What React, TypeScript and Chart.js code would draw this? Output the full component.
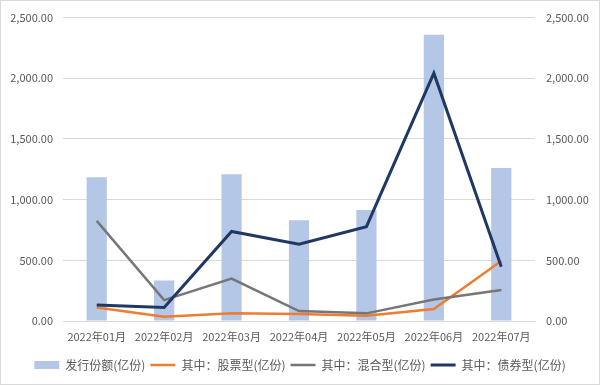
import React, { useEffect, useRef } from "react";
import { Chart, registerables } from "chart.js";

Chart.register(...registerables);

const categories = ["2022年01月", "2022年02月", "2022年03月", "2022年04月", "2022年05月", "2022年06月", "2022年07月"];
const issuance = [1185, 333, 1209, 831, 915, 2359, 1261];
const stockType = [112, 35, 63, 57, 44, 98, 495];
const mixedType = [825, 172, 349, 82, 63, 177, 255];
const bondType = [131, 112, 738, 633, 777, 2042, 447];
const seriesNames = ["发行份额(亿份)", "其中：股票型(亿份)", "其中：混合型(亿份)", "其中：债券型(亿份)"];
const axisMax = 2500;
const axisStep = 500;

const FONT = '"Noto Sans CJK SC", "Noto Sans", sans-serif';
const TEXT = "#595959";
const GRID = "#d9d9d9";

const fmt = (v: number) =>
  Number(v).toLocaleString("en-US", { minimumFractionDigits: 2, maximumFractionDigits: 2 });

const borderPlugin = {
  id: "frame",
  afterDraw(chart: any) {
    const ctx = chart.ctx;
    ctx.save();
    ctx.strokeStyle = GRID;
    ctx.lineWidth = 1;
    ctx.strokeRect(0.5, 0.5, chart.width - 1, chart.height - 1);
    ctx.restore();
  },
};

export default function App() {
  const ref = useRef<HTMLCanvasElement>(null);
  useEffect(() => {
    document.body.style.margin = "0";
    const chart = new Chart(ref.current!, {
      type: "bar",
      data: {
        labels: categories,
        datasets: [
          {
            type: "bar",
            label: seriesNames[0],
            data: issuance,
            backgroundColor: "#b4c7e7",
            borderWidth: 0,
            barPercentage: 0.3,
            categoryPercentage: 1,
            yAxisID: "y",
            order: 4,
          } as any,
          {
            type: "line",
            label: seriesNames[1],
            data: stockType,
            borderColor: "#ed7d31",
            backgroundColor: "#ed7d31",
            borderWidth: 2.5,
            pointRadius: 0,
            tension: 0,
            yAxisID: "y1",
            order: 3,
          },
          {
            type: "line",
            label: seriesNames[2],
            data: mixedType,
            borderColor: "#767676",
            backgroundColor: "#767676",
            borderWidth: 2.5,
            pointRadius: 0,
            tension: 0,
            yAxisID: "y1",
            order: 2,
          },
          {
            type: "line",
            label: seriesNames[3],
            data: bondType,
            borderColor: "#203864",
            backgroundColor: "#203864",
            borderWidth: 3,
            pointRadius: 0,
            tension: 0,
            yAxisID: "y1",
            order: 1,
          },
        ],
      },
      options: {
        animation: false,
        responsive: false,
        layout: { padding: { top: 12, bottom: 4, left: 0, right: 0 } },
        plugins: {
          tooltip: { enabled: false },
          legend: {
            position: "bottom",
            labels: {
              font: { family: FONT, size: 12 },
              color: TEXT,
              usePointStyle: true,
              pointStyleWidth: 25,
              boxHeight: 8,
              padding: 5,
              sort: (a: any, b: any) => a.datasetIndex - b.datasetIndex,
              generateLabels: (chart: any) => {
                const items = Chart.defaults.plugins.legend.labels.generateLabels(chart);
                return items.map((it: any) => {
                  const ds = chart.data.datasets[it.datasetIndex];
                  if (ds.type === "line") {
                    it.pointStyle = "line";
                    it.strokeStyle = ds.borderColor;
                    it.lineWidth = ds.borderWidth;
                  } else {
                    it.pointStyle = "rect";
                    it.lineWidth = 0;
                    it.fillStyle = ds.backgroundColor;
                  }
                  return it;
                });
              },
            },
          },
        },
        scales: {
          x: {
            grid: { display: false, drawTicks: false },
            border: { display: true, color: GRID },
            ticks: { font: { family: FONT, size: 11 }, color: TEXT, padding: 9, maxRotation: 0 },
            afterFit: (s: any) => {
              s.height = 33;
            },
          },
          y: {
            position: "left",
            min: 0,
            max: axisMax,
            grid: { color: GRID, drawTicks: false },
            border: { display: false },
            ticks: {
              stepSize: axisStep,
              font: { family: FONT, size: 11 },
              color: TEXT,
              padding: 10,
              callback: (v: any) => fmt(v),
            },
            afterFit: (s: any) => {
              s.width = 63;
            },
          },
          y1: {
            position: "right",
            min: 0,
            max: axisMax,
            grid: { display: false, drawTicks: false },
            border: { display: false },
            ticks: {
              stepSize: axisStep,
              font: { family: FONT, size: 11 },
              color: TEXT,
              padding: 11,
              callback: (v: any) => fmt(v),
            },
            afterFit: (s: any) => {
              s.width = 65;
            },
          },
        },
      },
      plugins: [borderPlugin],
    });
    return () => chart.destroy();
  }, []);
  return (
    <div style={{ width: 600, height: 385, background: "#fff" }}>
      <canvas ref={ref} width={600} height={385} style={{ display: "block" }} />
    </div>
  );
}
